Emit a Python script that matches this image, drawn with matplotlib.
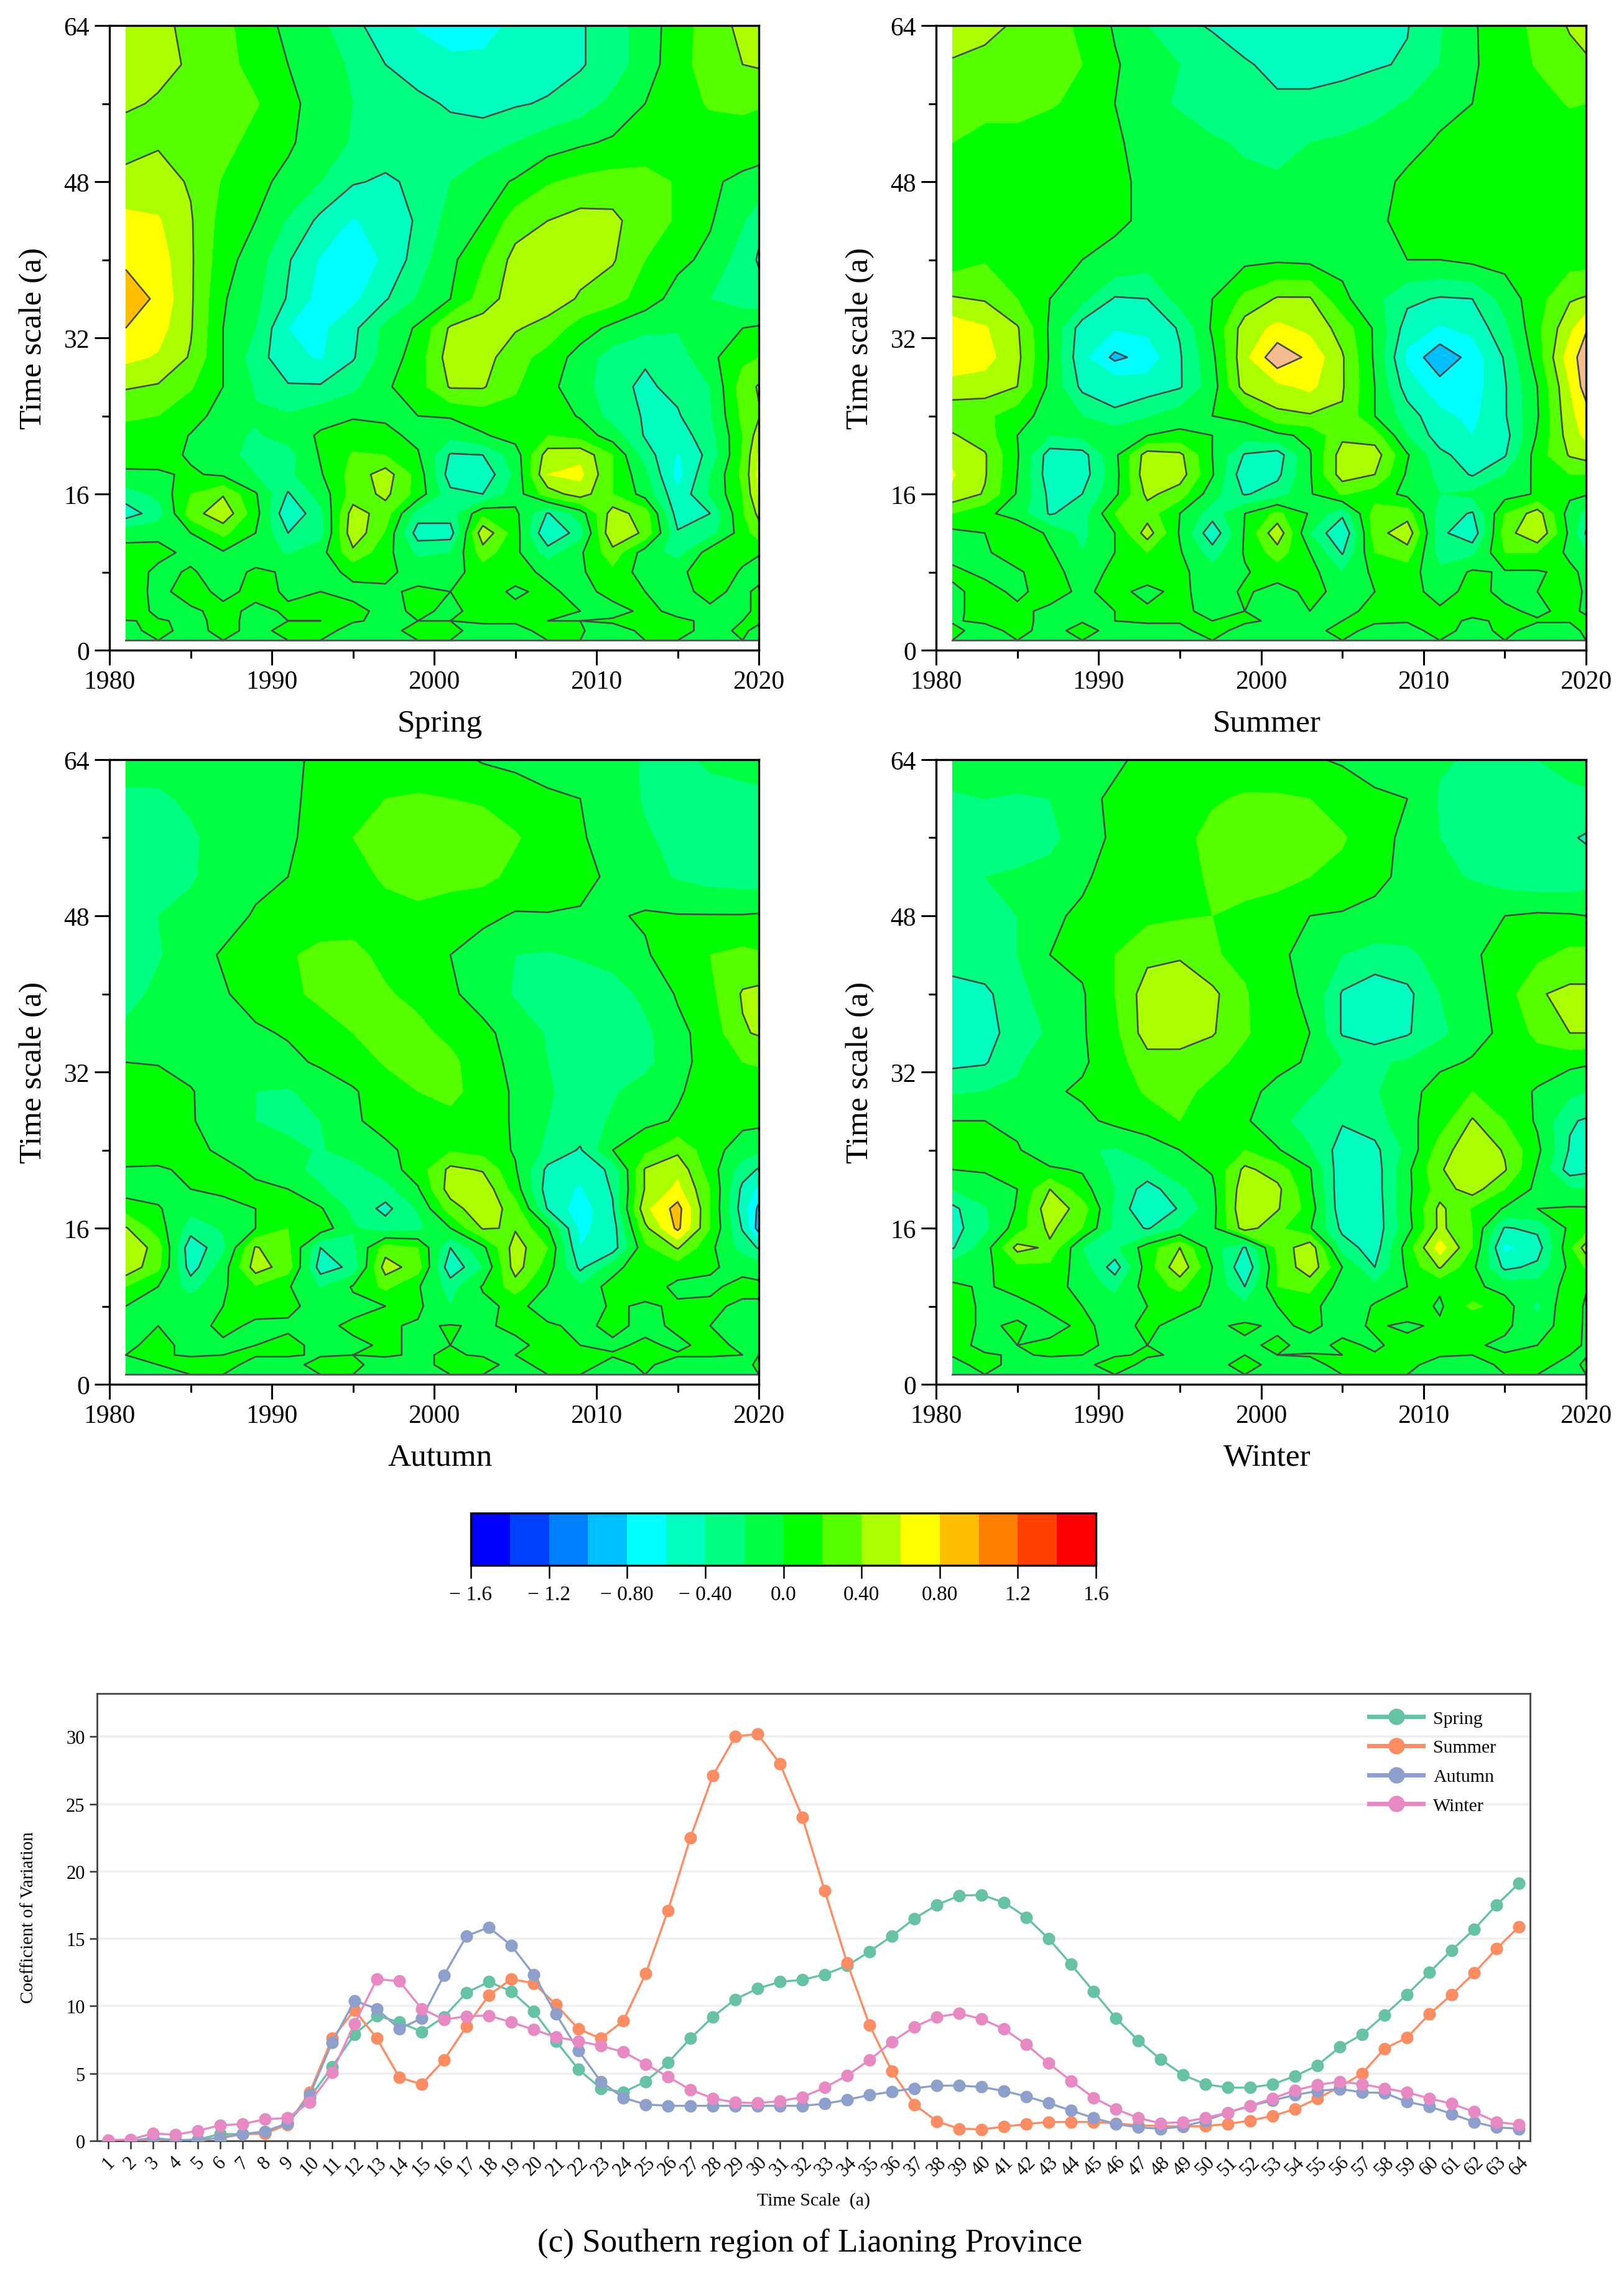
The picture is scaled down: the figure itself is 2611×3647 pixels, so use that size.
import matplotlib
matplotlib.use('Agg')
import matplotlib.pyplot as plt
from matplotlib.colors import BoundaryNorm, ListedColormap
from matplotlib.colorbar import ColorbarBase
from matplotlib.lines import Line2D
import numpy as np

plt.rcParams['font.family'] = ['Liberation Serif', 'DejaVu Serif']

W, H = 2611, 3648

YEARS = [1981, 1983, 1985, 1987, 1989, 1991, 1993, 1995, 1997, 1999, 2001,
         2003, 2005, 2007, 2009, 2011, 2013, 2015, 2017, 2019, 2020]
SCALES = [64, 60, 56, 52, 48, 44, 40, 36, 33, 30, 27, 24, 22, 20, 18, 16, 14,
          12, 10, 8, 6, 4, 3, 2, 1]
LEVELS = [-1.6, -1.4, -1.2, -1.0, -0.8, -0.6, -0.4, -0.2, 0.0, 0.2, 0.4, 0.6,
          0.8, 1.0, 1.2, 1.4, 1.6]
LINE_LEVELS = [-1.6, -1.2, -0.8, -0.4, 0.0, 0.4, 0.8, 1.2, 1.6]
BAR_LABELS = ['\u2212 1.6', '\u2212 1.2', '\u2212 0.80', '\u2212 0.40', '0.0',
              '0.40', '0.80', '1.2', '1.6']
COLORS = ['#0000ff', '#0040ff', '#0080ff', '#00bfff', '#00ffff', '#00ffbf',
          '#00ff80', '#00ff40', '#00ff00', '#55ff00', '#aaff00', '#ffff00',
          '#ffbf00', '#ff8000', '#ff4000', '#ff0000']

SPRING = [
    [.45, .45, .35, .25, .1, -.05, -.15, -.35, -.5, -.62, -.7, -.68, -.55, -.5, -.42, -.3, -.1, .1, .3, .45, .45],
    [.45, .45, .38, .28, .12, .0, -.05, -.25, -.4, -.48, -.55, -.55, -.5, -.48, -.42, -.3, -.1, .12, .3, .4, .42],
    [.43, .38, .33, .3, .22, .05, -.08, -.2, -.3, -.36, -.42, -.47, -.42, -.38, -.3, -.15, .0, .12, .22, .25, .22],
    [.3, .38, .32, .28, .12, .03, -.1, -.22, -.3, -.35, -.33, -.28, -.2, -.1, -.03, .03, .07, .1, .1, .08, .07],
    [.48, .48, .38, .18, .05, -.05, -.2, -.38, -.43, -.36, -.2, -.08, .02, .18, .25, .28, .28, .18, .02, -.03, -.05],
    [.65, .62, .42, .12, .0, -.22, -.45, -.62, -.5, -.38, -.12, .0, .3, .4, .47, .45, .28, .18, .02, -.18, -.35],
    [.75, .7, .43, .08, -.1, -.38, -.62, -.68, -.58, -.3, -.05, .18, .47, .5, .47, .42, .2, .05, -.05, -.3, -.42],
    [.95, .75, .43, .02, -.15, -.42, -.68, -.65, -.42, -.18, .0, .3, .5, .5, .38, .28, .1, -.08, -.2, -.3, -.32],
    [.8, .68, .42, .0, -.2, -.6, -.65, -.45, -.15, .03, .43, .5, .42, .33, .1, -.05, -.15, -.18, -.08, .0, .03],
    [.65, .58, .38, .0, -.3, -.55, -.62, -.42, -.12, .1, .5, .48, .28, .12, -.08, -.3, -.38, -.3, -.05, .15, .2],
    [.42, .38, .22, .0, -.22, -.38, -.38, -.25, -.03, .12, .42, .42, .22, .05, -.1, -.35, -.43, -.35, -.2, .3, .42],
    [.22, .2, .08, -.08, -.18, -.18, -.08, -.02, -.03, .0, .02, .1, .15, .12, -.02, -.28, -.42, -.42, -.22, .25, .38],
    [.15, .12, -.01, -.15, -.22, -.12, .03, .1, .05, -.05, -.15, -.02, .08, .2, .12, -.1, -.42, -.5, -.28, .2, .5],
    [.05, .06, -.02, -.12, -.28, -.28, .02, .22, .2, .02, -.42, -.4, -.1, .5, .55, .2, -.3, -.62, -.33, .22, .62],
    [-.02, -.02, .02, -.03, -.2, -.25, -.02, .28, .5, .12, -.5, -.55, -.15, .6, .65, .2, -.15, -.68, -.2, .25, .65],
    [-.3, -.15, .2, .38, .02, -.42, -.12, .28, .45, .12, -.35, -.4, -.1, .3, .5, .2, -.08, -.55, -.18, .2, .62],
    [-.5, -.3, .3, .55, .08, -.58, -.25, .5, .3, -.3, -.3, .15, .05, -.42, -.1, .5, .3, -.5, -.4, .18, .45],
    [-.1, -.05, .0, .25, .0, -.4, -.28, .55, .18, -.5, -.5, .55, .1, -.6, -.3, .6, .35, -.38, -.28, .1, .3],
    [.1, .06, -.05, -.02, -.1, -.22, -.08, .35, .08, -.25, -.2, .3, .05, -.3, -.03, .32, -.1, -.28, .1, .05, .02],
    [.12, -.05, .02, -.08, .03, -.02, -.08, .05, .03, -.05, -.08, .1, .05, -.03, -.03, .15, -.1, -.05, .12, -.02, -.1],
    [.1, -.05, .08, -.05, .05, -.02, .0, -.05, -.02, .02, .0, .05, -.02, .03, -.05, .05, .0, -.05, .05, -.05, .05],
    [.08, -.03, -.03, .05, -.04, .02, .03, .05, -.05, .03, -.03, .05, .03, .03, .0, -.05, .03, -.03, -.03, -.03, .03],
    [-.005, .01, -.02, .02, -.02, .0, .0, .01, -.02, .0, .0, .02, .02, .0, .0, .02, .02, .02, -.02, .0, .03],
    [-.05, .05, -.06, .05, -.05, .05, .05, -.05, -.05, .05, .03, -.05, -.05, .05, .01, -.06, .03, .06, -.06, .03, -.05],
    [0] * 21,
]

SUMMER = [
    [.45, .42, .39, .3, .15, -.02, -.2, -.35, -.42, -.5, -.6, -.6, -.5, -.45, -.41, -.22, -.02, .1, .25, .42, .45],
    [.39, .38, .3, .25, .2, .02, -.1, -.2, -.3, -.38, -.45, -.45, -.45, -.42, -.38, -.2, -.02, .08, .22, .33, .38],
    [.28, .25, .28, .22, .15, .0, -.15, -.22, -.28, -.33, -.37, -.37, -.33, -.27, -.18, -.05, -.0, .06, .1, .22, .2],
    [.2, .15, .12, .08, .08, .02, -.05, -.12, -.18, -.22, -.25, -.2, -.17, -.12, -.05, .02, .06, .06, .07, .05, .05],
    [.18, .1, .08, .07, .05, .03, -.03, -.1, -.13, -.17, -.18, -.15, -.12, -.05, .03, .05, .05, .06, .06, .05, .05],
    [.1, .12, .06, .04, .03, .02, -.02, -.07, -.12, -.2, -.2, -.12, -.08, -.02, .03, .12, .18, .12, .06, .05, .05],
    [.1, .18, .12, .03, .0, -.03, -.1, -.1, -.08, -.05, -.03, -.05, -.06, -.03, .0, .0, .05, .07, .1, .12, .12],
    [.42, .38, .2, .0, -.15, -.42, -.4, -.12, .0, .25, .42, .42, .05, -.15, -.35, -.42, -.4, -.12, .12, .38, .42],
    [.72, .62, .42, -.03, -.5, -.58, -.55, -.38, .03, .5, .65, .55, .32, -.03, -.5, -.62, -.55, -.25, .15, .55, .78],
    [.78, .68, .45, -.02, -.55, -.85, -.72, -.42, -.05, .55, .95, .75, .42, -.03, -.65, -.95, -.72, -.38, .1, .72, .9],
    [.5, .5, .4, -.05, -.45, -.45, -.5, -.42, -.1, .5, .55, .65, .42, .0, -.5, -.72, -.7, -.42, .0, .6, .9],
    [.28, .25, .08, -.08, -.2, -.38, -.22, -.1, .0, .05, .35, .38, .38, .0, -.3, -.55, -.65, -.42, -.02, .55, .7],
    [.42, .3, .0, -.2, -.15, -.05, .0, .05, .0, -.1, -.05, .05, .35, .3, -.2, -.5, -.6, -.48, .02, .5, .65],
    [.55, .42, .02, -.5, -.48, -.05, .5, .45, .0, -.42, -.5, -.02, .5, .5, .02, -.35, -.5, -.42, .1, .42, .48],
    [.62, .42, .0, -.52, -.5, -.08, .55, .5, .02, -.55, -.45, -.02, .5, .4, -.03, -.25, -.42, -.2, .05, .2, .2],
    [.55, .38, -.02, -.45, -.4, -.05, .45, .3, -.12, -.42, -.3, -.02, .22, .1, -.05, -.2, -.15, -.08, .02, .05, .02],
    [.2, .05, -.1, -.42, -.3, .2, .3, .0, -.3, .0, .25, -.02, -.35, .3, .3, -.3, -.42, .2, .5, -.1, -.25],
    [-.05, .0, .2, -.05, -.25, .0, .5, -.02, -.55, .02, .55, -.2, -.6, .3, .55, -.35, -.55, .3, .6, -.05, -.42],
    [-.05, -.02, .08, .03, -.2, .0, .2, .02, -.3, .02, .3, .0, -.42, .2, .3, -.3, -.25, .2, .2, -.05, -.2],
    [.03, -.03, -.02, .08, -.1, .05, .1, .05, -.12, -.02, .1, .08, -.2, .05, .1, -.15, .03, -.02, -.02, .05, -.05],
    [-.03, .05, -.03, .06, -.03, .05, -.05, .05, -.1, .03, -.08, .05, -.05, .0, .05, -.05, .04, -.03, .0, .06, -.02],
    [-.03, .05, .03, -.03, -.03, .0, .03, .03, -.04, .0, -.06, .0, -.05, .05, .02, .02, .02, .02, -.02, .03, -.02],
    [-.01, .02, .02, -.02, -.01, .0, .02, .01, .0, .02, -.02, -.01, .0, .02, .01, .02, -.01, .01, .01, .01, .03],
    [.03, -.05, .04, -.05, .05, -.05, -.06, -.03, .05, -.05, .0, -.05, .05, -.05, -.05, .05, -.05, .03, -.05, -.05, .03],
    [0] * 21,
]

AUTUMN = [
    [-.15, -.15, -.12, -.08, -.05, -.02, .02, .05, .07, .08, .07, -.02, -.05, -.08, -.1, -.12, -.22, -.28, -.15, -.08, -.05],
    [-.22, -.22, -.18, -.1, -.06, -.02, .03, .1, .2, .22, .2, .18, .1, .03, .0, -.1, -.22, -.28, -.3, -.3, -.28],
    [-.28, -.28, -.22, -.15, -.08, -.02, .05, .2, .25, .28, .3, .28, .22, .1, .02, -.08, -.18, -.25, -.3, -.35, -.35],
    [-.32, -.3, -.22, -.12, -.05, .0, .08, .15, .22, .28, .25, .25, .15, .1, .03, -.02, -.12, -.22, -.28, -.3, -.3],
    [-.28, -.2, -.15, -.08, .02, .05, .1, .12, .15, .15, .12, .05, -.02, -.01, -.01, -.02, .02, .01, .01, .01, .02],
    [-.28, -.22, -.08, .02, .1, .18, .25, .25, .15, .08, .0, -.1, -.2, -.22, -.18, -.12, -.02, .1, .2, .25, .22],
    [-.28, -.15, -.1, -.02, .08, .15, .25, .28, .22, .15, .03, -.08, -.22, -.3, -.32, -.3, -.15, .02, .15, .42, .45],
    [-.15, -.15, -.1, -.08, -.03, .02, .1, .2, .27, .25, .15, .05, -.08, -.22, -.32, -.32, -.25, -.05, .08, .38, .42],
    [.0, -.01, -.1, -.12, -.1, -.05, .03, .1, .22, .28, .25, .08, -.05, -.2, -.3, -.3, -.25, -.08, .1, .2, .22],
    [.15, .08, .02, -.15, -.2, -.22, -.12, -.02, .1, .2, .25, .12, -.03, -.18, -.28, -.22, -.12, -.02, .08, .1, .1],
    [.2, .18, .02, -.12, -.2, -.25, -.2, -.02, .05, .12, .15, .08, -.02, -.2, -.28, -.18, -.05, .02, .05, .05, .05],
    [.12, .08, .03, -.02, -.1, -.15, -.22, -.1, -.03, .05, .18, .12, -.02, -.25, -.42, .0, .15, .35, .08, -.1, -.15],
    [-.02, -.02, .03, .03, -.02, -.15, -.25, -.28, -.1, .1, .45, .38, .02, -.45, -.55, -.35, .42, .55, .1, -.3, -.42],
    [-.1, -.08, .0, .03, .02, .0, -.18, -.32, -.28, -.02, .5, .55, .1, -.5, -.62, -.38, .42, .65, .2, -.45, -.65],
    [.12, .02, -.15, -.05, -.0, .08, .02, -.25, -.46, -.18, .3, .55, .3, -.42, -.72, -.42, .55, .88, .2, -.5, -.85],
    [.42, .1, -.3, -.18, .0, .2, .12, -.18, -.3, -.25, .0, .42, .38, .02, -.65, -.5, .35, .85, .2, -.42, -.9],
    [.6, .3, -.55, -.25, .42, .25, -.4, -.25, .3, .2, -.4, -.05, .5, .2, -.6, -.5, .15, .42, .05, -.28, -.42],
    [.55, .25, -.5, -.1, .5, .3, -.5, -.35, .5, .3, -.55, -.2, .5, .1, -.45, -.1, .2, .1, .02, -.05, -.1],
    [.2, .0, -.28, -.03, .18, .02, -.22, .02, .25, .02, -.28, .02, .3, -.02, -.18, .1, .1, -.05, -.03, .05, .05],
    [.0, -.03, -.08, .0, .04, .03, -.05, -.05, .0, .04, -.2, -.05, .05, -.08, -.12, .03, -.03, .03, .03, -.03, -.03],
    [-.02, .0, -.05, .03, -.02, -.02, -.04, .03, .02, -.02, .01, -.02, .03, .02, -.03, .03, -.03, .02, .0, -.03, -.03],
    [-.02, .03, -.03, -.02, .0, .03, -.03, -.03, .02, -.02, .0, -.02, -.03, .04, .0, -.02, .02, -.02, .03, -.02, -.02],
    [.0, .01, -.01, .0, .01, .01, -.01, .0, .01, -.01, .01, -.01, .0, .01, .01, .01, .01, .01, .01, .0, .0],
    [-.05, .0, .05, .05, -.05, -.05, .05, .02, -.04, -.05, .05, .05, -.05, .05, .05, -.04, .02, -.05, -.05, -.05, .03],
    [0] * 21,
]

WINTER = [
    [-.12, -.1, -.08, -.05, -.02, -.02, .03, .05, .07, .1, .08, .02, -.02, -.05, -.08, -.18, -.22, -.22, -.2, -.1, -.08],
    [-.22, -.2, -.22, -.2, -.03, .02, .06, .12, .18, .22, .22, .2, .1, .02, .0, -.22, -.3, -.33, -.3, -.28, -.25],
    [-.22, -.25, -.38, -.28, -.05, .02, .08, .15, .25, .38, .28, .27, .22, .08, -.05, -.2, -.32, -.35, -.35, -.38, -.42],
    [-.2, -.2, -.15, -.1, -.02, .05, .1, .15, .22, .28, .25, .2, .15, .02, -.02, -.15, -.22, -.3, -.35, -.35, -.3],
    [-.22, -.2, -.2, -.02, .02, .1, .15, .18, .2, .15, .12, .0, -.02, -.02, -.05, -.08, -.03, -.0, .03, .02, -.0],
    [-.28, -.25, -.2, -.0, .05, .2, .35, .38, .22, .15, .03, -.05, -.2, -.28, -.25, -.12, -.03, .08, .15, .25, .25],
    [-.5, -.45, -.25, -.12, -.02, .2, .5, .52, .45, .22, .05, -.03, -.42, -.52, -.45, -.2, -.08, .1, .38, .45, .45],
    [-.5, -.5, -.28, -.18, -.02, .15, .5, .55, .42, .22, .1, .0, -.42, -.52, -.42, -.25, -.08, .05, .25, .4, .4],
    [-.45, -.42, -.22, -.12, -.03, .12, .32, .28, .25, .15, .05, -.02, -.2, -.22, -.18, -.05, .02, .08, .1, .05, .03],
    [-.22, -.2, -.18, -.03, .03, .12, .22, .25, .15, .05, -.05, -.18, -.28, -.22, -.08, .1, .2, .1, -.02, -.15, -.2],
    [.0, .0, -.05, -.1, -.05, .05, .12, .2, .18, .03, -.15, -.28, -.38, -.3, -.05, .1, .42, .2, -.03, -.38, -.42],
    [.08, .08, .02, -.15, -.18, -.22, -.12, .0, .1, .2, .02, -.18, -.5, -.45, -.15, .3, .55, .38, .05, -.42, -.42],
    [.0, .02, .05, .03, -.02, -.25, -.25, -.08, .02, .45, .3, .02, -.55, -.5, -.05, .38, .55, .42, -.02, -.5, -.45],
    [-.2, -.1, .0, .4, .08, -.2, -.5, -.25, -.05, .55, .45, .05, -.55, -.5, -.05, .3, .5, .2, -.05, -.18, -.2],
    [-.45, -.22, .02, .55, .3, -.25, -.58, -.38, -.08, .6, .42, .12, -.55, -.52, -.05, .45, .18, -.02, -.0, .02, .02],
    [-.48, -.25, .1, .45, .2, -.25, -.42, -.2, -.05, .5, .25, .02, -.45, -.52, -.08, .45, .2, -.42, -.35, .05, .1],
    [-.42, -.1, .47, .36, -.2, -.25, .1, .4, -.1, -.42, .25, .55, -.3, -.5, .1, .7, .2, -.65, -.5, .15, .5],
    [-.1, -.05, .15, .15, -.1, -.5, .1, .55, .0, -.6, .2, .55, .0, -.4, .05, .42, .05, -.45, -.35, .05, .22],
    [.03, -.02, .05, .12, -.1, -.25, .1, .25, -.03, -.4, .2, .25, -.1, -.15, -.0, .03, .05, -.08, -.1, .05, .03],
    [.05, -.02, -.05, .03, .0, -.1, .0, .05, -.03, -.15, .0, .1, -.2, .03, .12, -.03, .25, .1, -.25, .2, -.05],
    [.05, -.02, .02, -.05, .03, -.05, .03, -.05, -.03, .03, -.03, .03, -.05, .02, -.03, .03, .0, .03, -.1, .1, -.03],
    [.04, -.03, .0, .03, .03, -.03, .0, -.05, .0, -.03, .03, -.05, .03, -.02, .05, .03, .02, -.03, .0, .05, -.02],
    [.01, .01, -.01, .01, .0, -.01, .01, -.01, -.01, .0, .0, .01, .0, .01, .01, .01, .0, .01, .01, .0, -.01],
    [-.05, .05, -.05, -.05, -.03, .05, -.03, -.02, -.05, .05, -.05, -.05, .05, .03, .03, -.05, -.06, .03, .05, -.05, .03],
    [0] * 21,
]

PANELS = ['Spring', 'Summer', 'Autumn', 'Winter']

TIME_SCALE = list(range(1, 65))
CV_SPRING = [0, 0, .2, .05, .1, .5, .5, .55, 1.3, 3.2, 5.5, 7.9, 9.3, 8.8, 8.1, 9.2,
             11.0, 11.8, 11.1, 9.6, 7.4, 5.3, 3.9, 3.6, 4.4, 5.8, 7.6, 9.2, 10.5, 11.3, 11.8, 11.95,
             12.35, 13.0, 14.05, 15.2, 16.5, 17.5, 18.2, 18.25, 17.7, 16.6, 15.0, 13.1, 11.1, 9.1, 7.45, 6.05,
             4.9, 4.2, 3.95, 3.95, 4.2, 4.8, 5.6, 6.95, 7.9, 9.35, 10.85, 12.5, 14.15, 15.7, 17.5, 19.1]
CV_SUMMER = [0, 0, .1, 0, 0, .25, .5, .55, 1.2, 3.6, 7.6, 9.7, 7.6, 4.7, 4.2, 6.0,
             8.5, 10.8, 12.0, 11.7, 10.1, 8.3, 7.6, 8.9, 12.4, 17.1, 22.5, 27.1, 30.0, 30.2, 28.0, 24.0,
             18.55, 13.2, 8.6, 5.15, 2.7, 1.45, .9, .85, 1.05, 1.25, 1.4, 1.4, 1.4, 1.3, 1.15, 1.1,
             1.05, 1.1, 1.25, 1.5, 1.85, 2.35, 3.15, 4.0, 5.0, 6.85, 7.65, 9.4, 10.85, 12.45, 14.25, 15.9]
CV_AUTUMN = [0, 0, .2, 0, .1, .2, .5, .7, 1.3, 3.4, 7.3, 10.4, 9.8, 8.3, 9.1, 12.3,
             15.2, 15.85, 14.5, 12.35, 9.4, 6.7, 4.4, 3.2, 2.7, 2.6, 2.6, 2.6, 2.6, 2.6, 2.6, 2.6,
             2.75, 3.05, 3.4, 3.65, 3.9, 4.1, 4.1, 4.0, 3.7, 3.3, 2.8, 2.25, 1.7, 1.25, 1.0, .9,
             1.05, 1.5, 2.1, 2.6, 3.0, 3.4, 3.7, 3.85, 3.6, 3.55, 2.9, 2.55, 2.0, 1.4, 1.0, .9]
CV_WINTER = [.05, .1, .55, .45, .75, 1.15, 1.25, 1.6, 1.7, 2.85, 5.1, 8.7, 12.0, 11.85, 9.8, 9.0,
             9.25, 9.3, 8.8, 8.25, 7.7, 7.4, 7.05, 6.6, 5.7, 4.75, 3.8, 3.15, 2.85, 2.8, 2.95, 3.25,
             3.95, 4.85, 6.0, 7.35, 8.45, 9.2, 9.45, 9.05, 8.3, 7.15, 5.75, 4.45, 3.2, 2.35, 1.7, 1.3,
             1.4, 1.7, 2.1, 2.6, 3.15, 3.75, 4.15, 4.4, 4.2, 3.9, 3.6, 3.15, 2.75, 2.15, 1.4, 1.2]
LINE_COLORS = ['#66c2a5', '#fc8d62', '#8da0cb', '#e78ac3']


def add_axes(fig, left, top, right, bottom):
    return fig.add_axes([left / W, 1 - bottom / H, (right - left) / W, (bottom - top) / H])


def draw_panel(fig, box, values, label, colors):
    ax = add_axes(fig, *box)
    z = np.array(values)
    ax.contourf(YEARS, SCALES, z, levels=LEVELS, colors=colors)
    ax.contour(YEARS, SCALES, z, levels=LINE_LEVELS, colors='#484848',
               linewidths=1.9, linestyles='solid')
    ax.plot([YEARS[0], YEARS[-1]], [SCALES[-1], SCALES[-1]], color='#555555', lw=2)
    ax.set_xlim(1980, 2020)
    ax.set_ylim(0, 64)
    ax.set_xticks([1980, 1990, 2000, 2010, 2020])
    ax.set_xticks([1985, 1995, 2005, 2015], minor=True)
    ax.set_yticks([0, 16, 32, 48, 64])
    ax.set_yticks([8, 24, 40, 56], minor=True)
    ax.tick_params(which='major', length=17, width=2.2, labelsize=30, pad=6)
    ax.tick_params(which='minor', length=9, width=2.2)
    for s in ax.spines.values():
        s.set_linewidth(2.4)
    ax.set_xlabel(label, fontsize=37, labelpad=17, x=0.509)
    ax.set_ylabel('Time scale (a)', fontsize=37, labelpad=18)
    return ax


def main():
    fig = plt.figure(figsize=(W / 100, H / 100), dpi=100)

    boxes = [(176, 42, 1220, 1046), (1505, 42, 2550, 1046),
             (176, 1222, 1220, 2226), (1505, 1222, 2550, 2226)]
    for box, values, label in zip(boxes, [SPRING, SUMMER, AUTUMN, WINTER], PANELS):
        colors = list(COLORS)
        if label == 'Summer':
            colors[12] = '#f5bd8f'
        draw_panel(fig, box, values, label, colors)

    cax = add_axes(fig, 757, 2433, 1762, 2517)
    norm = BoundaryNorm(LEVELS, len(COLORS))
    cb = ColorbarBase(cax, cmap=ListedColormap(COLORS), norm=norm, orientation='horizontal',
                      ticks=LINE_LEVELS, spacing='uniform', drawedges=False)
    cb.ax.set_xticklabels(BAR_LABELS)
    cb.ax.tick_params(length=15, width=1.8, labelsize=24, pad=8)
    cb.ax.minorticks_off()
    cb.outline.set_linewidth(2.4)

    ax = add_axes(fig, 156, 2723, 2460, 3442)
    for yv in [5, 10, 15, 20, 25, 30]:
        ax.axhline(yv, color='#eeeeee', lw=2.6, zorder=0)
    series = [CV_SPRING, CV_SUMMER, CV_AUTUMN, CV_WINTER]
    for values, color in zip(series, LINE_COLORS):
        ax.plot(TIME_SCALE, values, color=color, lw=2.4, marker='o', ms=14.5, mew=0, zorder=3)
    ax.set_xlim(0.5, 64.5)
    ax.set_ylim(0, 33.2)
    ax.set_xticks(TIME_SCALE)
    ax.set_xticklabels(TIME_SCALE, rotation=45, ha='center')
    ax.set_yticks([0, 5, 10, 15, 20, 25, 30])
    ax.tick_params(axis='both', length=9, width=1.8, labelsize=22, color='#333333', pad=5)
    for s in ax.spines.values():
        s.set_linewidth(2)
        s.set_color('#444444')
    ax.set_xlabel('Time Scale\u2002(a)', fontsize=21.5, labelpad=15)
    ax.set_ylabel('Coefficient of Variation', fontsize=21, labelpad=34)
    handles = [Line2D([], [], color=c, lw=5, marker='o', ms=19, mew=0) for c in LINE_COLORS]
    ax.legend(handles, PANELS, loc='upper right', frameon=False, fontsize=21.5,
              handlelength=2.9, labelspacing=0.66, handletextpad=0.55,
              bbox_to_anchor=(0.988, 1.0), borderaxespad=0.5)

    fig.text(1302 / W, 1 - 3606 / H, '(c) Southern region of Liaoning Province',
             fontsize=38.2, ha='center', va='center')
    fig.savefig('out.png', dpi=100)


if __name__ == '__main__':
    main()
